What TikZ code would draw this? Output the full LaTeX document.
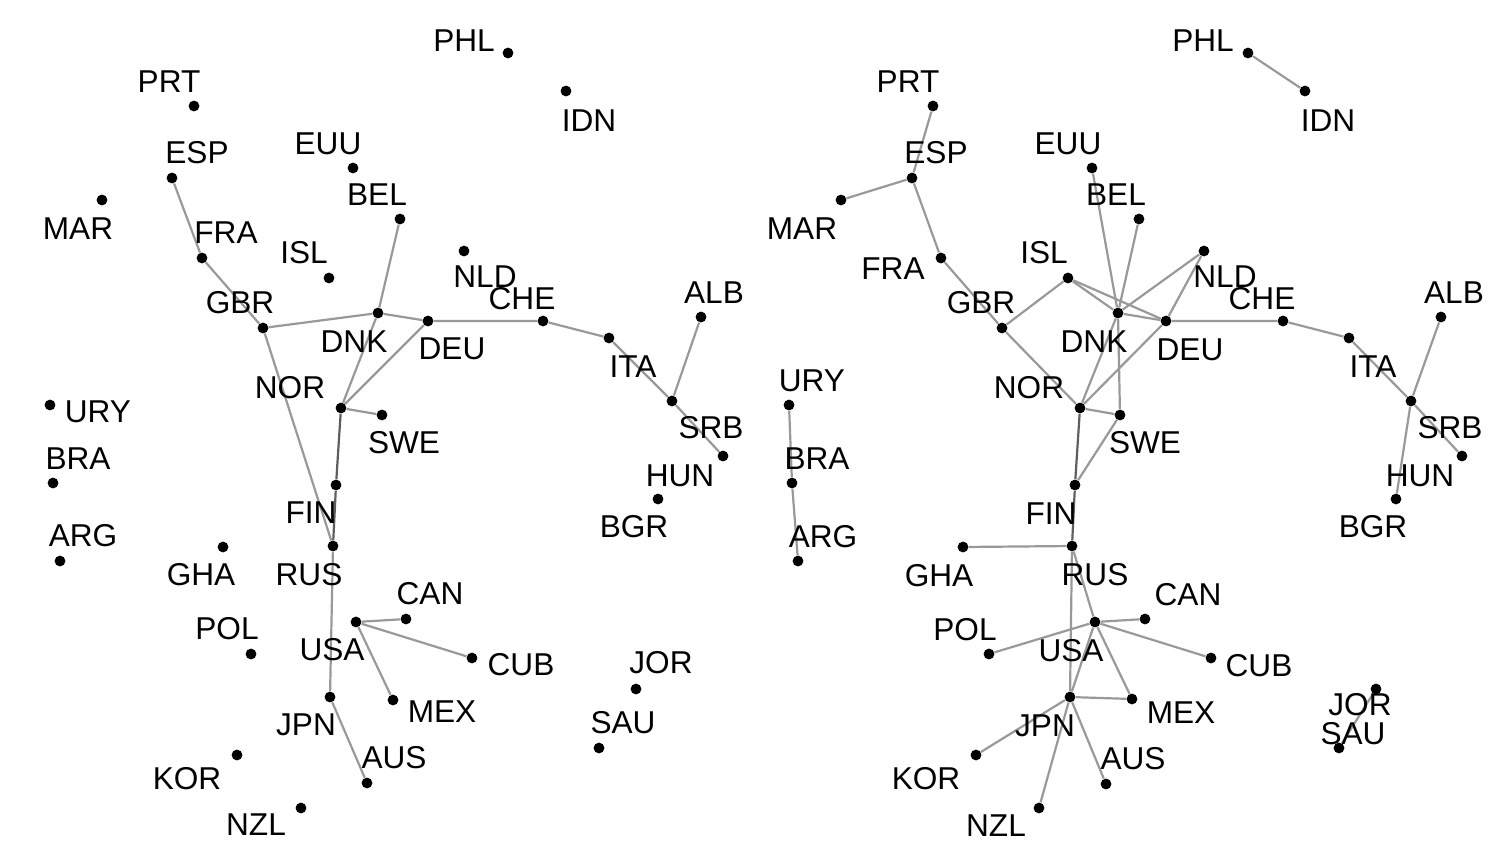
\documentclass[tikz,border=0pt]{standalone}
\usepackage{fontspec}
\setmainfont{Liberation Sans}
\usepackage{xcolor}
\usepackage{tikz}
\usetikzlibrary{backgrounds}
\definecolor{edgegray}{HTML}{999999}
\definecolor{edgedark}{HTML}{5E5E5E}

\begin{document}
\begin{tikzpicture}[x=0.5pt, y=-0.5pt,
    dot/.style={circle, fill=black, inner sep=0pt, minimum size=5.4pt},
    lbl/.style={inner sep=0pt, font=\fontsize{15.8}{18}\selectfont},
    edge/.style={draw=edgegray, line width=1.1pt},
    strong/.style={draw=edgedark, line width=1.1pt}]
  \useasboundingbox (0,0) rectangle (1512,864);

  % Left panel
  \node[dot] (PHL-1) at (508,53) {};   \node[lbl] (PHL-1-label) at (464,41) {PHL};
  \node[dot] (IDN-1) at (566,91) {};   \node[lbl] (IDN-1-label) at (589,121) {IDN};
  \node[dot] (PRT-1) at (194,106) {};  \node[lbl] (PRT-1-label) at (169,82) {PRT};
  \node[dot] (ESP-1) at (172,178) {};  \node[lbl] (ESP-1-label) at (197,153) {ESP};
  \node[dot] (EUU-1) at (353,168) {};  \node[lbl] (EUU-1-label) at (328,144) {EUU};
  \node[dot] (BEL-1) at (400,219) {};  \node[lbl] (BEL-1-label) at (377,195) {BEL};
  \node[dot] (MAR-1) at (102,200) {};  \node[lbl] (MAR-1-label) at (78,229) {MAR};
  \node[dot] (FRA-1) at (202,258) {};  \node[lbl] (FRA-1-label) at (226,233) {FRA};
  \node[dot] (ISL-1) at (329,278) {};  \node[lbl] (ISL-1-label) at (304,253) {ISL};
  \node[dot] (NLD-1) at (464,251) {};  \node[lbl] (NLD-1-label) at (485,277) {NLD};
  \node[dot] (GBR-1) at (263,328) {};  \node[lbl] (GBR-1-label) at (240,303) {GBR};
  \node[dot] (DNK-1) at (378,313) {};  \node[lbl] (DNK-1-label) at (354,342) {DNK};
  \node[dot] (DEU-1) at (428,321) {};  \node[lbl] (DEU-1-label) at (452,349) {DEU};
  \node[dot] (CHE-1) at (543,321) {};  \node[lbl] (CHE-1-label) at (522,299) {CHE};
  \node[dot] (ALB-1) at (701,317) {};  \node[lbl] (ALB-1-label) at (714,293) {ALB};
  \node[dot] (ITA-1) at (609,338) {};  \node[lbl] (ITA-1-label) at (633,367) {ITA};
  \node[dot] (URY-1) at (50,405) {};   \node[lbl] (URY-1-label) at (98,412) {URY};
  \node[dot] (NOR-1) at (341,408) {};  \node[lbl] (NOR-1-label) at (290,388) {NOR};
  \node[dot] (SWE-1) at (382,415) {};  \node[lbl] (SWE-1-label) at (404,443) {SWE};
  \node[dot] (SRB-1) at (672,401) {};  \node[lbl] (SRB-1-label) at (711,428) {SRB};
  \node[dot] (HUN-1) at (723,456) {};  \node[lbl] (HUN-1-label) at (680,476) {HUN};
  \node[dot] (BRA-1) at (53,483) {};   \node[lbl] (BRA-1-label) at (78,459) {BRA};
  \node[dot] (BGR-1) at (658,499) {};  \node[lbl] (BGR-1-label) at (634,527) {BGR};
  \node[dot] (FIN-1) at (336,485) {};  \node[lbl] (FIN-1-label) at (311,513) {FIN};
  \node[dot] (ARG-1) at (60,561) {};   \node[lbl] (ARG-1-label) at (83,536) {ARG};
  \node[dot] (GHA-1) at (223,547) {};  \node[lbl] (GHA-1-label) at (201,575) {GHA};
  \node[dot] (RUS-1) at (333,546) {};  \node[lbl] (RUS-1-label) at (309,575) {RUS};
  \node[dot] (CAN-1) at (406,619) {};  \node[lbl] (CAN-1-label) at (430,594) {CAN};
  \node[dot] (USA-1) at (356,622) {};  \node[lbl] (USA-1-label) at (332,650) {USA};
  \node[dot] (POL-1) at (251,654) {};  \node[lbl] (POL-1-label) at (227,629) {POL};
  \node[dot] (CUB-1) at (472,658) {};  \node[lbl] (CUB-1-label) at (521,665) {CUB};
  \node[dot] (JOR-1) at (636,689) {};  \node[lbl] (JOR-1-label) at (661,663) {JOR};
  \node[dot] (JPN-1) at (330,697) {};  \node[lbl] (JPN-1-label) at (306,725) {JPN};
  \node[dot] (MEX-1) at (393,700) {};  \node[lbl] (MEX-1-label) at (442,712) {MEX};
  \node[dot] (SAU-1) at (599,748) {};  \node[lbl] (SAU-1-label) at (623,723) {SAU};
  \node[dot] (KOR-1) at (237,755) {};  \node[lbl] (KOR-1-label) at (187,779) {KOR};
  \node[dot] (AUS-1) at (367,783) {};  \node[lbl] (AUS-1-label) at (394,758) {AUS};
  \node[dot] (NZL-1) at (301,808) {};  \node[lbl] (NZL-1-label) at (256,825) {NZL};

  % Right panel
  \node[dot] (PHL-2) at (1248,53) {};  \node[lbl] (PHL-2-label) at (1203,41) {PHL};
  \node[dot] (IDN-2) at (1305,91) {};  \node[lbl] (IDN-2-label) at (1328,121) {IDN};
  \node[dot] (PRT-2) at (933,106) {};  \node[lbl] (PRT-2-label) at (908,82) {PRT};
  \node[dot] (ESP-2) at (912,178) {};  \node[lbl] (ESP-2-label) at (936,153) {ESP};
  \node[dot] (EUU-2) at (1092,168) {}; \node[lbl] (EUU-2-label) at (1068,144) {EUU};
  \node[dot] (BEL-2) at (1139,219) {}; \node[lbl] (BEL-2-label) at (1116,195) {BEL};
  \node[dot] (MAR-2) at (841,200) {};  \node[lbl] (MAR-2-label) at (802,229) {MAR};
  \node[dot] (FRA-2) at (941,258) {};  \node[lbl] (FRA-2-label) at (893,269) {FRA};
  \node[dot] (ISL-2) at (1068,278) {}; \node[lbl] (ISL-2-label) at (1044,253) {ISL};
  \node[dot] (NLD-2) at (1204,251) {}; \node[lbl] (NLD-2-label) at (1225,277) {NLD};
  \node[dot] (GBR-2) at (1002,328) {}; \node[lbl] (GBR-2-label) at (981,303) {GBR};
  \node[dot] (DNK-2) at (1118,313) {}; \node[lbl] (DNK-2-label) at (1094,342) {DNK};
  \node[dot] (DEU-2) at (1166,321) {}; \node[lbl] (DEU-2-label) at (1190,350) {DEU};
  \node[dot] (CHE-2) at (1283,321) {}; \node[lbl] (CHE-2-label) at (1262,299) {CHE};
  \node[dot] (ALB-2) at (1441,317) {}; \node[lbl] (ALB-2-label) at (1454,293) {ALB};
  \node[dot] (ITA-2) at (1349,338) {}; \node[lbl] (ITA-2-label) at (1373,367) {ITA};
  \node[dot] (URY-2) at (789,405) {};  \node[lbl] (URY-2-label) at (812,381) {URY};
  \node[dot] (NOR-2) at (1080,408) {}; \node[lbl] (NOR-2-label) at (1029,388) {NOR};
  \node[dot] (SWE-2) at (1120,415) {}; \node[lbl] (SWE-2-label) at (1145,443) {SWE};
  \node[dot] (SRB-2) at (1411,401) {}; \node[lbl] (SRB-2-label) at (1450,428) {SRB};
  \node[dot] (HUN-2) at (1462,456) {}; \node[lbl] (HUN-2-label) at (1420,476) {HUN};
  \node[dot] (BRA-2) at (792,483) {};  \node[lbl] (BRA-2-label) at (817,459) {BRA};
  \node[dot] (BGR-2) at (1396,499) {}; \node[lbl] (BGR-2-label) at (1373,527) {BGR};
  \node[dot] (FIN-2) at (1075,485) {}; \node[lbl] (FIN-2-label) at (1051,514) {FIN};
  \node[dot] (ARG-2) at (798,561) {};  \node[lbl] (ARG-2-label) at (823,537) {ARG};
  \node[dot] (GHA-2) at (963,547) {};  \node[lbl] (GHA-2-label) at (939,576) {GHA};
  \node[dot] (RUS-2) at (1072,546) {}; \node[lbl] (RUS-2-label) at (1095,575) {RUS};
  \node[dot] (CAN-2) at (1145,619) {}; \node[lbl] (CAN-2-label) at (1188,595) {CAN};
  \node[dot] (USA-2) at (1095,622) {}; \node[lbl] (USA-2-label) at (1071,651) {USA};
  \node[dot] (POL-2) at (989,654) {};  \node[lbl] (POL-2-label) at (965,630) {POL};
  \node[dot] (CUB-2) at (1211,658) {}; \node[lbl] (CUB-2-label) at (1259,666) {CUB};
  \node[dot] (JOR-2) at (1376,689) {}; \node[lbl] (JOR-2-label) at (1360,705) {JOR};
  \node[dot] (SAU-2) at (1339,748) {}; \node[lbl] (SAU-2-label) at (1353,734) {SAU};
  \node[dot] (JPN-2) at (1070,697) {}; \node[lbl] (JPN-2-label) at (1045,726) {JPN};
  \node[dot] (MEX-2) at (1132,699) {}; \node[lbl] (MEX-2-label) at (1181,713) {MEX};
  \node[dot] (KOR-2) at (976,755) {};  \node[lbl] (KOR-2-label) at (926,779) {KOR};
  \node[dot] (AUS-2) at (1106,784) {}; \node[lbl] (AUS-2-label) at (1133,759) {AUS};
  \node[dot] (NZL-2) at (1039,808) {}; \node[lbl] (NZL-2-label) at (996,826) {NZL};

  \begin{scope}[on background layer]
    % Left panel links
    \draw[edge] (ESP-1) -- (FRA-1) -- (GBR-1) -- (DNK-1) -- (DEU-1) -- (CHE-1) -- (ITA-1) -- (SRB-1) -- (HUN-1);
    \draw[edge] (BEL-1) -- (DNK-1) -- (NOR-1) -- (DEU-1);
    \draw[edge] (ALB-1) -- (SRB-1);
    \draw[edge] (NOR-1) -- (SWE-1);
    \draw[edge] (GBR-1) -- (RUS-1) -- (JPN-1) -- (AUS-1);
    \draw[strong] (NOR-1) -- (FIN-1) -- (RUS-1);
    \draw[edge] (CAN-1) -- (USA-1) -- (CUB-1);
    \draw[edge] (USA-1) -- (MEX-1);

    % Right panel links
    \draw[edge] (PHL-2) -- (IDN-2);
    \draw[edge] (PRT-2) -- (ESP-2) -- (FRA-2) -- (GBR-2) -- (ISL-2) -- (DNK-2) -- (DEU-2) -- (CHE-2) -- (ITA-2) -- (SRB-2) -- (HUN-2);
    \draw[edge] (MAR-2) -- (ESP-2);
    \draw[edge] (ALB-2) -- (SRB-2) -- (BGR-2);
    \draw[edge] (EUU-2) -- (DNK-2) -- (BEL-2);
    \draw[edge] (ISL-2) -- (DEU-2) -- (NLD-2) -- (DNK-2);
    \draw[edge] (GBR-2) -- (NOR-2) -- (DNK-2) -- (SWE-2) -- (NOR-2) -- (DEU-2);
    \draw[edge] (SWE-2) -- (FIN-2);
    \draw[strong] (NOR-2) -- (FIN-2) -- (RUS-2);
    \draw[edge] (GHA-2) -- (RUS-2) -- (USA-2) -- (CAN-2);
    \draw[edge] (RUS-2) -- (JPN-2) -- (USA-2) -- (CUB-2);
    \draw[edge] (POL-2) -- (USA-2) -- (MEX-2) -- (JPN-2);
    \draw[edge] (KOR-2) -- (JPN-2) -- (NZL-2);
    \draw[edge] (JPN-2) -- (AUS-2);
    \draw[edge] (URY-2) -- (BRA-2) -- (ARG-2);
    \draw[edge] (JOR-2) -- (SAU-2);
  \end{scope}
\end{tikzpicture}
\end{document}
